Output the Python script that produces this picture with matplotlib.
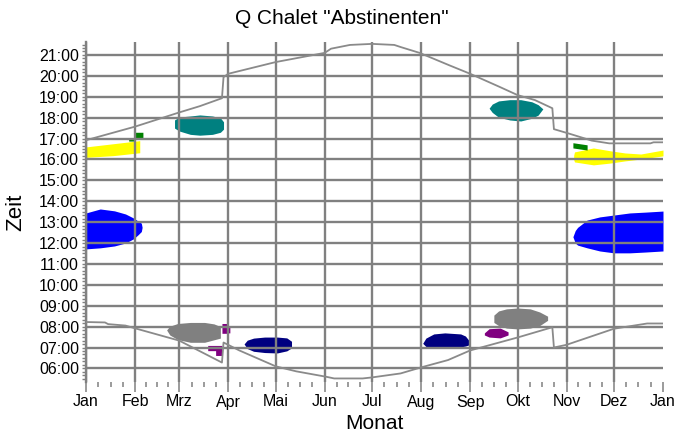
"""
Schattendiagramm Q. Chalet "Abstinenten"
Sonnenauf-/untergang (mit Sommerzeit-Sprung) und Zeitfenster der Schatten pro Monat.
"""

import matplotlib

matplotlib.use("Agg")
import matplotlib.pyplot as plt
from matplotlib.ticker import FixedLocator, MultipleLocator

plt.rcParams["font.family"] = ["Liberation Sans", "DejaVu Sans"]

# --- Achsen ---------------------------------------------------------------
month_starts = [0, 31, 59, 90, 120, 151, 181, 212, 243, 273, 304, 334, 365]
month_labels = ["Jan", "Feb", "Mrz", "Apr", "Mai", "Jun", "Jul", "Aug", "Sep", "Okt", "Nov", "Dez", "Jan"]
hour_ticks = [6, 7, 8, 9, 10, 11, 12, 13, 14, 15, 16, 17, 18, 19, 20, 21]
hour_labels = ["06:00", "07:00", "08:00", "09:00", "10:00", "11:00", "12:00", "13:00",
               "14:00", "15:00", "16:00", "17:00", "18:00", "19:00", "20:00", "21:00"]

# --- Sonnenuntergang / -aufgang (Tag im Jahr, Stunde) ----------------------
sunset_days = [0, 31, 59, 72, 86, 87, 90, 120, 151, 155, 167, 181, 195, 199, 211,
               230, 243, 262, 273, 284, 295, 296, 305, 320, 331, 357, 359, 365]
sunset_hours = [16.92, 17.57, 18.25, 18.55, 18.93, 19.94, 20.1, 20.66, 21.1, 21.3, 21.48, 21.53, 21.48, 21.38, 21.1,
                20.5, 20.1, 19.46, 19.08, 18.84, 18.45, 17.45, 17.25, 16.9, 16.77, 16.77, 16.82, 16.82]

sunrise_days = [0, 12, 14, 25, 31, 59, 86, 87, 97, 120, 133, 152, 157, 175, 181, 199,
                212, 229, 243, 273, 295, 296, 304, 334, 355, 365]
sunrise_hours = [8.22, 8.2, 8.12, 8.05, 7.92, 7.33, 6.28, 7.24, 6.86, 6.1, 5.86, 5.6, 5.52, 5.52, 5.57, 5.76,
                 6.05, 6.4, 6.86, 7.48, 7.97, 7.0, 7.13, 7.9, 8.15, 8.15]

# --- Schattenflächen (Tag, obere Stunde, untere Stunde) --------------------
blue_jan_days = [0, 9, 18, 25, 30, 33, 35, 35.5]
blue_jan_top = [13.44, 13.63, 13.54, 13.39, 13.2, 13.05, 12.95, 12.75]
blue_jan_bot = [11.72, 11.77, 11.86, 12.0, 12.2, 12.4, 12.55, 12.75]

blue_dez_days = [308, 309.5, 311, 317, 325, 334, 344, 354, 365]
blue_dez_top = [12.3, 12.6, 12.75, 13.1, 13.25, 13.34, 13.44, 13.48, 13.53]
blue_dez_bot = [12.3, 12.0, 11.9, 11.77, 11.62, 11.53, 11.53, 11.57, 11.62]

yellow_jan_days = [0, 17, 34]
yellow_jan_top = [16.6, 16.75, 16.9]
yellow_jan_bot = [16.1, 16.18, 16.32]

yellow_dez_days = [308.5, 309, 321, 332, 341, 351, 365]
yellow_dez_top = [16.2, 16.36, 16.55, 16.41, 16.31, 16.26, 16.45]
yellow_dez_bot = [16.0, 15.88, 15.74, 15.83, 15.93, 16.02, 16.17]

green_feb_days = [27, 31, 31.01, 36]
green_feb_top = [17.05, 17.05, 17.3, 17.3]
green_feb_bot = [16.88, 16.88, 17.05, 17.05]

green_nov_days = [308, 317]
green_nov_top = [16.8, 16.7]
green_nov_bot = [16.55, 16.45]

teal_mrz_days = [56, 59, 66, 72, 80, 85, 87]
teal_mrz_top = [17.89, 18.03, 18.08, 18.13, 18.08, 17.99, 17.8]
teal_mrz_bot = [17.5, 17.36, 17.2, 17.16, 17.2, 17.3, 17.45]

teal_okt_days = [255, 257, 261, 268, 275, 282, 286, 289]
teal_okt_top = [18.45, 18.65, 18.8, 18.86, 18.86, 18.76, 18.62, 18.42]
teal_okt_bot = [18.45, 18.25, 18.02, 17.89, 17.84, 17.97, 18.12, 18.42]

gray_mrz_days = [51, 53, 58, 66, 75, 81, 85]
gray_mrz_top = [7.84, 8.02, 8.15, 8.2, 8.2, 8.13, 8.0]
gray_mrz_bot = [7.84, 7.6, 7.38, 7.25, 7.25, 7.37, 7.45]

gray_okt_days = [258, 261, 266, 273, 281, 287, 292]
gray_okt_top = [8.55, 8.75, 8.85, 8.89, 8.85, 8.7, 8.5]
gray_okt_bot = [8.2, 8.05, 7.93, 7.89, 7.93, 8.05, 8.3]

purple_apr_days = [86, 89, 89.01, 91]
purple_apr_top = [8.15, 8.15, 8.0, 8.0]
purple_apr_bot = [7.68, 7.68, 7.7, 7.7]

purple_mrz_days = [77, 82, 82.01, 86]
purple_mrz_top = [7.1, 7.1, 7.1, 7.1]
purple_mrz_bot = [6.85, 6.85, 6.62, 6.62]

purple_sep_days = [252, 255, 262, 267]
purple_sep_top = [7.7, 7.9, 7.93, 7.75]
purple_sep_bot = [7.6, 7.5, 7.46, 7.6]

navy_apr_days = [100, 102, 106, 113, 121, 127, 130]
navy_apr_top = [7.17, 7.35, 7.45, 7.5, 7.5, 7.46, 7.3]
navy_apr_bot = [7.17, 6.95, 6.82, 6.76, 6.74, 6.84, 6.98]

navy_aug_days = [213, 215, 220, 227, 237, 240, 242]
navy_aug_top = [7.2, 7.45, 7.65, 7.7, 7.65, 7.55, 7.36]
navy_aug_bot = [7.2, 7.05, 7.0, 6.98, 7.03, 7.07, 7.12]

GRID = "#808080"


def main() -> None:
    fig = plt.figure(figsize=(6.76, 4.37), dpi=100)
    ax = fig.add_axes([86 / 676, 1 - 382 / 437, 577 / 676, 340 / 437])

    blobs = [
        (blue_jan_days, blue_jan_top, blue_jan_bot, "#0000ff"),
        (blue_dez_days, blue_dez_top, blue_dez_bot, "#0000ff"),
        (yellow_jan_days, yellow_jan_top, yellow_jan_bot, "#ffff00"),
        (yellow_dez_days, yellow_dez_top, yellow_dez_bot, "#ffff00"),
        (green_feb_days, green_feb_top, green_feb_bot, "#008000"),
        (green_nov_days, green_nov_top, green_nov_bot, "#008000"),
        (teal_mrz_days, teal_mrz_top, teal_mrz_bot, "#008080"),
        (teal_okt_days, teal_okt_top, teal_okt_bot, "#008080"),
        (gray_mrz_days, gray_mrz_top, gray_mrz_bot, "#808080"),
        (gray_okt_days, gray_okt_top, gray_okt_bot, "#808080"),
        (purple_apr_days, purple_apr_top, purple_apr_bot, "#800080"),
        (purple_mrz_days, purple_mrz_top, purple_mrz_bot, "#800080"),
        (purple_sep_days, purple_sep_top, purple_sep_bot, "#800080"),
        (navy_apr_days, navy_apr_top, navy_apr_bot, "#000080"),
        (navy_aug_days, navy_aug_top, navy_aug_bot, "#000080"),
    ]
    for days, top, bot, color in blobs:
        ax.fill_between(days, bot, top, color=color, linewidth=0, zorder=1)

    # Sonnenlinien
    ax.plot(sunset_days, sunset_hours, color="#8a8a8a", linewidth=1.3, zorder=3)
    ax.plot(sunrise_days, sunrise_hours, color="#8a8a8a", linewidth=1.3, zorder=3)

    ax.set_xlim(0, 365)
    ax.set_ylim(5.35, 21.62)

    # x: Monatsanfänge + Viertelmonate als kleine Ticks
    minor_x = []
    for a, b in zip(month_starts[:-1], month_starts[1:]):
        minor_x += [a + (b - a) * k / 4 for k in (1, 2, 3)]
    ax.xaxis.set_major_locator(FixedLocator(month_starts))
    ax.xaxis.set_minor_locator(FixedLocator(minor_x))
    ax.set_xticklabels(month_labels)

    ax.yaxis.set_major_locator(FixedLocator(hour_ticks))
    ax.yaxis.set_minor_locator(MultipleLocator(1 / 6))
    ax.set_yticklabels(hour_labels)

    ax.tick_params(axis="x", which="major", direction="out", length=7, width=1.1, color=GRID,
                   labelsize=11.5, pad=2)
    ax.tick_params(axis="x", which="minor", direction="out", length=3.5, width=1.1, color=GRID)
    ax.tick_params(axis="y", which="both", direction="out", length=3, width=1.0, color=GRID,
                   labelsize=11.5, pad=2)

    ax.set_axisbelow(False)
    ax.grid(True, which="major", color=GRID, linewidth=1.7, zorder=2)
    ax.xaxis.get_gridlines()[-1].set_visible(False)

    for side in ("top", "right", "bottom"):
        ax.spines[side].set_visible(False)
    ax.spines["left"].set_color(GRID)
    ax.spines["left"].set_linewidth(1.7)

    ax.set_xlabel("Monat", fontsize=15)
    ax.xaxis.set_label_coords(0.5, -0.095)
    ax.set_ylabel("Zeit", fontsize=16)
    ax.yaxis.set_label_coords(-0.104, 0.5)

    fig.text(0.506, 1 - 19 / 437, 'Q Chalet "Abstinenten"', ha="center", va="center", fontsize=15)

    fig.savefig("out.png", dpi=100)


if __name__ == "__main__":
    main()
